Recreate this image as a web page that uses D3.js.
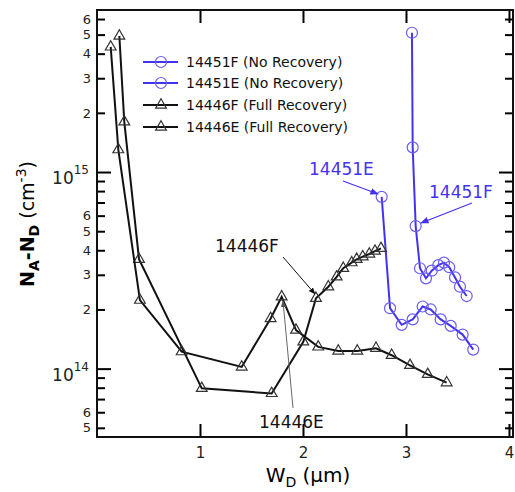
<!DOCTYPE html>
<html>
<head>
<meta charset="utf-8">
<script src="https://cdn.jsdelivr.net/npm/d3@7"></script>
<style>
  body { margin: 0; background: #fff; }
  svg text { font-family: "DejaVu Sans", sans-serif; }
</style>
</head>
<body>
<div id="container"></div>
<script>
// series data, W_D in um and N_A-N_D in cm^-3
const f51X = [3.058, 3.065, 3.094, 3.136, 3.194, 3.250, 3.314, 3.369, 3.420, 3.476, 3.524, 3.589];
const f51Y = [5.11e15, 1.335e15, 5.31e14, 3.24e14, 2.88e14, 3.15e14, 3.36e14, 3.46e14, 3.28e14, 2.91e14, 2.61e14, 2.34e14];

const e51X = [2.764, 2.845, 2.958, 3.065, 3.162, 3.240, 3.337, 3.434, 3.550, 3.653];
const e51Y = [7.48e14, 2.03e14, 1.67e14, 1.78e14, 2.07e14, 2.00e14, 1.78e14, 1.65e14, 1.49e14, 1.25e14];

const f46X = [0.217, 0.265, 0.408, 1.017, 1.696, 2.003, 2.126, 2.246, 2.327, 2.391, 2.473, 2.521, 2.580, 2.644, 2.699, 2.757];
const f46Y = [4.92e15, 1.80e15, 3.60e14, 7.94e13, 7.48e13, 1.37e14, 2.28e14, 2.61e14, 2.93e14, 3.24e14, 3.46e14, 3.60e14, 3.71e14, 3.83e14, 3.96e14, 4.09e14];

const e46X = [0.133, 0.207, 0.417, 0.822, 1.405, 1.686, 1.793, 1.932, 2.148, 2.343, 2.527, 2.709, 2.861, 3.039, 3.211, 3.395];
const e46Y = [4.33e15, 1.30e15, 2.23e14, 1.22e14, 1.02e14, 1.80e14, 2.32e14, 1.57e14, 1.29e14, 1.23e14, 1.23e14, 1.27e14, 1.17e14, 1.04e14, 9.35e13, 8.48e13];

const legendLabels = ['14451F (No Recovery)', '14451E (No Recovery)', '14446F (Full Recovery)', '14446E (Full Recovery)'];
const xTicks = [1, 2, 3, 4];
const yMinor = [5e13, 6e13, 7e13, 8e13, 9e13, 2e14, 3e14, 4e14, 5e14, 6e14, 7e14, 8e14, 9e14, 2e15, 3e15, 4e15, 5e15, 6e15];
const yMajor = [1e14, 1e15];
const yMinorLabeled = [5e13, 6e13, 2e14, 3e14, 4e14, 5e14, 6e14, 2e15, 3e15, 4e15, 5e15, 6e15];

const blue = '#4433ee';

const width = 515;
const height = 492;
const plot = { left: 97, right: 513, top: 10, bottom: 437 };

const svg = d3.select('#container').append('svg')
    .attr('width', width)
    .attr('height', height);

const xScale = d3.scaleLinear().domain([0, 4.039]).range([plot.left, plot.right]);
const yScale = d3.scaleLog().domain([4.49e13, 6.67e15]).range([plot.bottom, plot.top]);

//Axes: minor and major ticks pointing inward
function yAxisGroup(axisFn, x, vals, len, labels) {
    const g = svg.append('g')
        .attr('transform', 'translate(' + x + ',0)')
        .call(axisFn(yScale).tickValues(vals).tickSize(len).tickPadding(6)
            .tickFormat(d => labels && labels.indexOf(d) >= 0 ? d3.format('d')(+d.toExponential().split('e')[0]) : ''));
    g.select('.domain').remove();
    g.selectAll('line').attr('stroke-width', 2);
    g.selectAll('text').attr('font-size', 13).attr('fill', '#222');
    return g;
}
yAxisGroup(d3.axisLeft, plot.left, yMinor, -8, yMinorLabeled);
yAxisGroup(d3.axisLeft, plot.left, yMajor, -14, null);
yAxisGroup(d3.axisRight, plot.right, yMinor, -8, null);
yAxisGroup(d3.axisRight, plot.right, yMajor, -14, null);

//decade labels
yMajor.forEach(v => {
    const t = svg.append('text')
        .attr('x', plot.left - 8)
        .attr('y', yScale(v) + 12)
        .attr('text-anchor', 'end')
        .attr('font-size', 17)
        .attr('fill', '#222');
    t.append('tspan').text('10');
    t.append('tspan').attr('dy', -10).attr('font-size', 12).text(Math.round(Math.log10(v)));
});

const xBottom = svg.append('g')
    .attr('transform', 'translate(0,' + plot.bottom + ')')
    .call(d3.axisBottom(xScale).tickValues(xTicks).tickSize(-13).tickPadding(10).tickFormat(d3.format('d')));
xBottom.select('.domain').remove();
xBottom.selectAll('line').attr('stroke-width', 2);
xBottom.selectAll('text').attr('font-size', 15).attr('fill', '#222');

const xTop = svg.append('g')
    .attr('transform', 'translate(0,' + plot.top + ')')
    .call(d3.axisTop(xScale).tickValues(xTicks).tickSize(-13).tickFormat(''));
xTop.select('.domain').remove();
xTop.selectAll('line').attr('stroke-width', 2);

//frame
svg.append('rect')
    .attr('x', plot.left).attr('y', plot.top)
    .attr('width', plot.right - plot.left).attr('height', plot.bottom - plot.top)
    .attr('fill', 'none').attr('stroke', '#111').attr('stroke-width', 2);

//Axis titles
svg.append('text')
    .attr('x', 308).attr('y', 482)
    .attr('text-anchor', 'middle')
    .attr('font-size', 20)
    .call(t => {
        t.append('tspan').text('W');
        t.append('tspan').attr('dy', 5).attr('font-size', 14).text('D');
        t.append('tspan').attr('dy', -5).text(' (\u03bcm)');
    });

svg.append('text')
    .attr('transform', 'translate(34,224) rotate(-90)')
    .attr('text-anchor', 'middle')
    .attr('font-size', 19)
    .call(t => {
        t.append('tspan').attr('font-weight', 'bold').text('N');
        t.append('tspan').attr('font-weight', 'bold').attr('dy', 5).attr('font-size', 14).text('A');
        t.append('tspan').attr('font-weight', 'bold').attr('dy', -5).text('-N');
        t.append('tspan').attr('font-weight', 'bold').attr('dy', 5).attr('font-size', 14).text('D');
        t.append('tspan').attr('dy', -5).text(' (cm');
        t.append('tspan').attr('dy', -8).attr('font-size', 14).text('-3');
        t.append('tspan').attr('dy', 8).text(')');
    });

//Series
const line = d3.line().x(d => xScale(d[0])).y(d => yScale(d[1]));
const tri = d3.symbol().type(d3.symbolTriangle).size(50);

const series = [
    { x: f51X, y: f51Y, color: blue, mark: 'circle' },
    { x: e51X, y: e51Y, color: blue, mark: 'circle' },
    { x: f46X, y: f46Y, color: '#111', mark: 'tri' },
    { x: e46X, y: e46Y, color: '#111', mark: 'tri' }
];

series.forEach(s => {
    const pts = s.x.map((v, i) => [v, s.y[i]]);
    svg.append('path')
        .datum(pts)
        .attr('d', line)
        .attr('fill', 'none')
        .attr('stroke', s.color)
        .attr('stroke-width', 2);
    if (s.mark === 'circle') {
        svg.selectAll(null).data(pts).enter().append('circle')
            .attr('cx', d => xScale(d[0]))
            .attr('cy', d => yScale(d[1]))
            .attr('r', 5.5)
            .attr('fill', 'none')
            .attr('stroke', '#6a5cf5')
            .attr('stroke-width', 1.2);
    } else {
        svg.selectAll(null).data(pts).enter().append('path')
            .attr('d', tri)
            .attr('transform', d => 'translate(' + xScale(d[0]) + ',' + yScale(d[1]) + ')')
            .attr('fill', 'none')
            .attr('stroke', '#333')
            .attr('stroke-width', 1.2);
    }
});

//Legend
const legendY = [62, 83, 105, 127];
legendLabels.forEach((lab, i) => {
    const s = series[i];
    svg.append('line')
        .attr('x1', 143).attr('x2', 178)
        .attr('y1', legendY[i]).attr('y2', legendY[i])
        .attr('stroke', s.color).attr('stroke-width', 2);
    if (s.mark === 'circle') {
        svg.append('circle').attr('cx', 161).attr('cy', legendY[i]).attr('r', 5.5)
            .attr('fill', 'none').attr('stroke', '#6a5cf5').attr('stroke-width', 1.2);
    } else {
        svg.append('path').attr('d', tri)
            .attr('transform', 'translate(161,' + legendY[i] + ')')
            .attr('fill', 'none').attr('stroke', '#333').attr('stroke-width', 1.2);
    }
    svg.append('text')
        .attr('x', 186).attr('y', legendY[i] + 5)
        .attr('font-size', 14)
        .attr('fill', '#111')
        .text(lab);
});

//Annotations
const defs = svg.append('defs');
function marker(id, color) {
    defs.append('marker')
        .attr('id', id)
        .attr('viewBox', '0 0 10 10')
        .attr('refX', 9).attr('refY', 5)
        .attr('markerWidth', 7).attr('markerHeight', 7)
        .attr('orient', 'auto')
        .append('path').attr('d', 'M0,1L10,5L0,9z').attr('fill', color);
}
marker('ab', blue);
marker('ak', '#111');
marker('ag', '#555');

const notes = [
    { text: '14451E', x: 309, y: 175, color: blue, x1: 343, y1: 181, x2: 378, y2: 194, m: 'ab', w: 1.2 },
    { text: '14451F', x: 429, y: 198, color: blue, x1: 472, y1: 203, x2: 421, y2: 223, m: 'ab', w: 1.2 },
    { text: '14446F', x: 215, y: 252, color: '#111', x1: 283, y1: 257, x2: 315, y2: 294, m: 'ak', w: 1 },
    { text: '14446E', x: 259, y: 428, color: '#111', x1: 293, y1: 408, x2: 283, y2: 301, m: 'ag', w: 1 }
];
notes.forEach(n => {
    svg.append('line')
        .attr('x1', n.x1).attr('y1', n.y1).attr('x2', n.x2).attr('y2', n.y2)
        .attr('stroke', n.m === 'ag' ? '#666' : n.color)
        .attr('stroke-width', n.w)
        .attr('marker-end', 'url(#' + n.m + ')');
    svg.append('text')
        .attr('x', n.x).attr('y', n.y)
        .attr('font-size', 17)
        .attr('fill', n.color)
        .text(n.text);
});
</script>
</body>
</html>
